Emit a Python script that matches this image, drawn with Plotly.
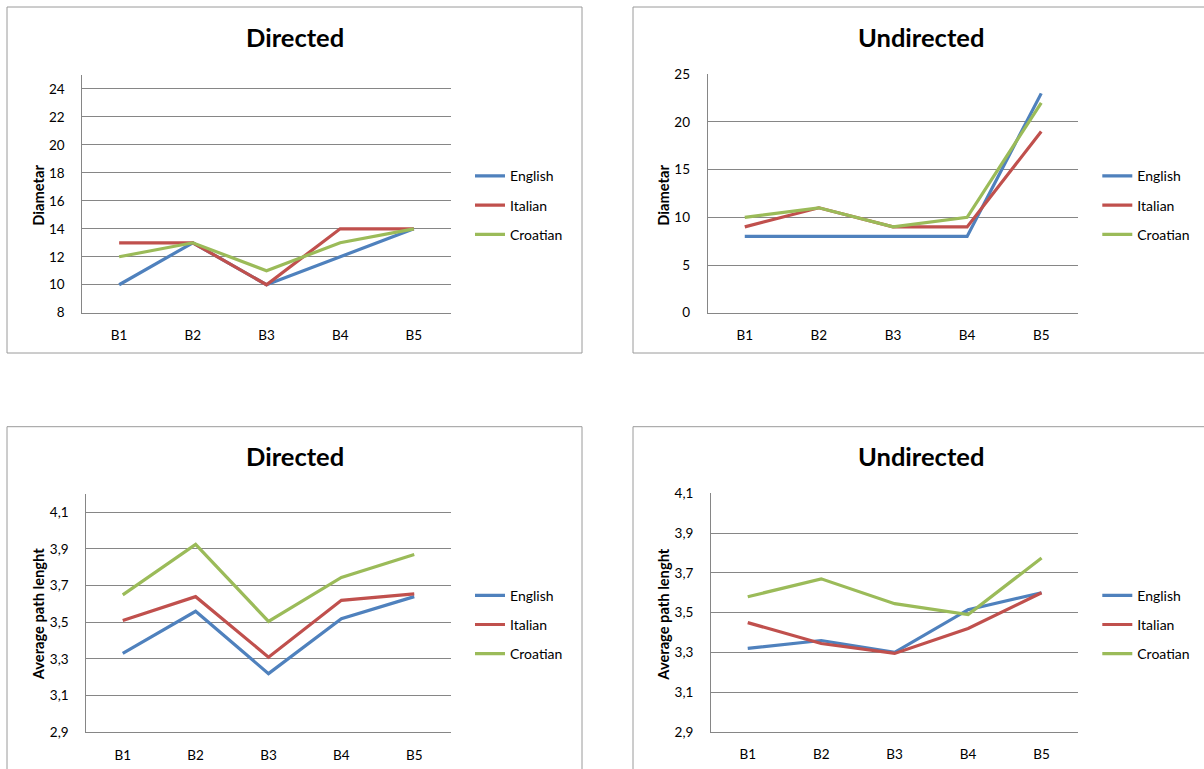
import plotly.graph_objects as go

# Canvas size in pixels
W, H = 1204, 769

categories = ["B1", "B2", "B3", "B4", "B5"]
languages = ["English", "Italian", "Croatian"]
line_colors = ["#4F81BD", "#C0504D", "#9BBB59"]

# Diameter of the directed networks
diam_dir_english = [10, 13, 10, 12, 14]
diam_dir_italian = [13, 13, 10, 14, 14]
diam_dir_croatian = [12, 13, 11, 13, 14]

# Diameter of the undirected networks
diam_undir_english = [8, 8, 8, 8, 23]
diam_undir_italian = [9, 11, 9, 9, 19]
diam_undir_croatian = [10, 11, 9, 10, 22]

# Average path length of the directed networks
apl_dir_english = [3.33, 3.56, 3.22, 3.52, 3.64]
apl_dir_italian = [3.51, 3.64, 3.31, 3.62, 3.655]
apl_dir_croatian = [3.65, 3.925, 3.505, 3.745, 3.87]

# Average path length of the undirected networks
apl_undir_english = [3.32, 3.36, 3.30, 3.515, 3.60]
apl_undir_italian = [3.45, 3.345, 3.295, 3.42, 3.60]
apl_undir_croatian = [3.58, 3.67, 3.545, 3.49, 3.775]

# Y-axis tick values
diam_dir_ticks = [8, 10, 12, 14, 16, 18, 20, 22, 24]
diam_undir_ticks = [0, 5, 10, 15, 20, 25]
apl_ticks = [2.9, 3.1, 3.3, 3.5, 3.7, 3.9, 4.1]

FONT = "Lato, Carlito, 'Open Sans', sans-serif"
GRID = "#868686"
FRAME = "#9A9A9A"


def fx(px):
    return px / W


def fy(py):
    return 1 - py / H


panels = [
    dict(title="Directed", ytitle="Diametar",
         series=[diam_dir_english, diam_dir_italian, diam_dir_croatian],
         ticks=diam_dir_ticks, yrange=[8, 25], fmt="d",
         frame=(7, 7, 582, 353), plot=(82.3, 75, 450.7, 312.7),
         title_xy=(294.5, 37), ytitle_xy=(37.7, 195), legend_xy=(470, 205.3)),
    dict(title="Undirected", ytitle="Diametar",
         series=[diam_undir_english, diam_undir_italian, diam_undir_croatian],
         ticks=diam_undir_ticks, yrange=[0, 25], fmt="d",
         frame=(633, 7, 1209, 353), plot=(707.7, 74.3, 1078.3, 312.7),
         title_xy=(921, 37), ytitle_xy=(662.7, 195), legend_xy=(1097.3, 205.3)),
    dict(title="Directed", ytitle="Average path lenght",
         series=[apl_dir_english, apl_dir_italian, apl_dir_croatian],
         ticks=apl_ticks, yrange=[2.9, 4.2], fmt=".1f",
         frame=(7, 426.7, 582, 790), plot=(86.3, 494, 450.7, 732.3),
         title_xy=(294.5, 456), ytitle_xy=(38.3, 614), legend_xy=(470, 624.7)),
    dict(title="Undirected", ytitle="Average path lenght",
         series=[apl_undir_english, apl_undir_italian, apl_undir_croatian],
         ticks=apl_ticks, yrange=[2.9, 4.1], fmt=".1f",
         frame=(633, 426.7, 1209, 790), plot=(711, 493.3, 1078.3, 732),
         title_xy=(921, 456), ytitle_xy=(662.7, 614), legend_xy=(1097.3, 624.7)),
]

fig = go.Figure()
layout = dict(
    width=W, height=H,
    margin=dict(l=0, r=0, t=0, b=0, autoexpand=False),
    paper_bgcolor="white", plot_bgcolor="white",
    separators=", ",
    font=dict(family=FONT, size=13.5, color="black"),
    showlegend=True,
    shapes=[], annotations=[],
)

for i, p in enumerate(panels):
    n = "" if i == 0 else str(i + 1)
    xa, ya = "x" + n, "y" + n
    leg = "legend" + n
    x0, y0, x1, y1 = p["plot"]

    for lang, color, vals in zip(languages, line_colors, p["series"]):
        fig.add_trace(go.Scatter(
            x=categories, y=vals, name=lang, mode="lines",
            line=dict(color=color, width=3.2),
            xaxis=xa, yaxis=ya, legend=leg,
            legendgroup=f"{lang}-{i}", hoverinfo="skip",
        ))

    layout["xaxis" + n] = dict(
        domain=[fx(x0), fx(x1)], anchor=ya,
        type="category", categoryorder="array", categoryarray=categories,
        range=[-0.5, len(categories) - 0.5],
        showgrid=False, zeroline=False,
        showline=True, linecolor=GRID, linewidth=1,
        ticks="", ticklabelstandoff=10,
        tickfont=dict(family=FONT, size=13.5, color="black"),
    )
    layout["yaxis" + n] = dict(
        domain=[fy(y1), fy(y0)], anchor=xa,
        range=p["yrange"], tickvals=p["ticks"], tickformat=p["fmt"],
        showgrid=True, gridcolor=GRID, gridwidth=1, zeroline=False,
        showline=True, linecolor=GRID, linewidth=1,
        ticks="", ticklabelstandoff=14,
        tickfont=dict(family=FONT, size=13.5, color="black"),
    )
    layout[leg] = dict(
        x=fx(p["legend_xy"][0]), y=fy(p["legend_xy"][1]),
        xanchor="left", yanchor="middle",
        bgcolor="rgba(0,0,0,0)", borderwidth=0,
        itemwidth=30, traceorder="grouped", tracegroupgap=8,
        font=dict(family=FONT, size=14, color="black"),
    )

    fx0, fy0, fx1, fy1 = p["frame"]
    layout["shapes"].append(dict(
        type="rect", xref="paper", yref="paper", layer="below",
        x0=fx(fx0), x1=fx(fx1), y0=fy(fy1), y1=fy(fy0),
        line=dict(color=FRAME, width=1), fillcolor="rgba(0,0,0,0)",
    ))
    layout["annotations"].append(dict(
        text=p["title"], xref="paper", yref="paper",
        x=fx(p["title_xy"][0]), y=fy(p["title_xy"][1]),
        xanchor="center", yanchor="middle", showarrow=False,
        font=dict(family=FONT, size=25.5, color="black", weight="bold"),
    ))
    layout["annotations"].append(dict(
        text=p["ytitle"], xref="paper", yref="paper", textangle=-90,
        x=fx(p["ytitle_xy"][0]), y=fy(p["ytitle_xy"][1]),
        xanchor="center", yanchor="middle", showarrow=False,
        font=dict(family=FONT, size=14.7, color="black", weight="bold"),
    ))

fig.update_layout(**layout)
fig.write_html("out.html")
